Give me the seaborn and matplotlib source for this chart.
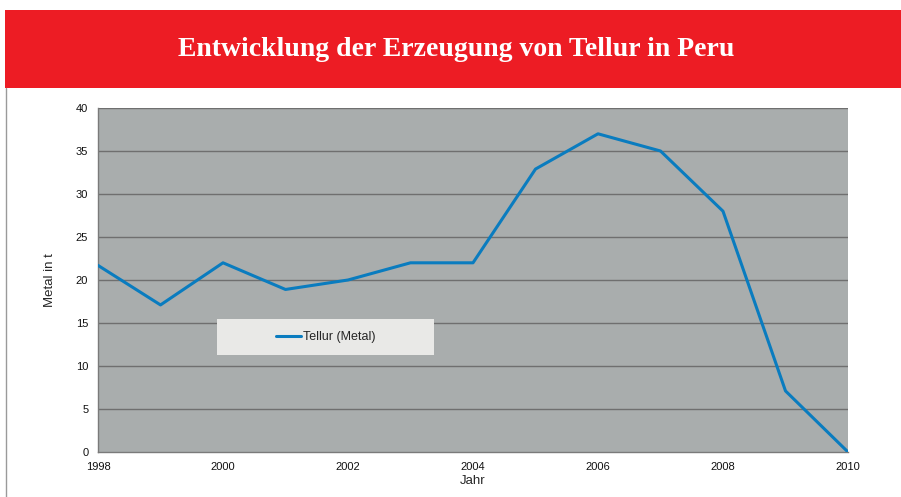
import matplotlib
matplotlib.use("Agg")
import matplotlib.pyplot as plt
import seaborn as sns
import pandas as pd
from matplotlib.patches import Rectangle
from matplotlib.lines import Line2D

years = [1998, 1999, 2000, 2001, 2002, 2003, 2004, 2005, 2006, 2007, 2008, 2009, 2010]
tellur = [21.7, 17.1, 22.0, 18.9, 20.0, 22.0, 22.0, 32.9, 37.0, 35.0, 28.0, 7.1, 0.0]
x_ticks = [1998, 2000, 2002, 2004, 2006, 2008, 2010]
y_ticks = [0, 5, 10, 15, 20, 25, 30, 35, 40]

df = pd.DataFrame({"Jahr": years, "Tellur (Metal)": tellur})

sns.set_style("white")
plt.rcParams["font.family"] = ["Liberation Sans", "DejaVu Sans"]

W, H = 901, 497
fig = plt.figure(figsize=(W / 100, H / 100), dpi=100)

# red title banner
fig.patches.append(Rectangle((5 / W, 1 - 88 / H), 1 - 5 / W, 78 / H,
                             transform=fig.transFigure, facecolor="#ed1c24",
                             edgecolor="none", zorder=0))
fig.text(456 / W, 1 - 50 / H, "Entwicklung der Erzeugung von Tellur in Peru",
         ha="center", va="center", color="white", fontsize=20, fontweight="bold",
         family=["Liberation Serif", "DejaVu Serif"])
fig.lines.append(Line2D([5.5 / W, 5.5 / W], [0, 1 - 88 / H], transform=fig.transFigure,
                        color="#9a9a9a", lw=1))

ax = fig.add_axes([98 / W, 1 - 452 / H, (848 - 98) / W, (452 - 108) / H])
ax.set_facecolor("#a9adad")
sns.lineplot(data=df, x="Jahr", y="Tellur (Metal)", ax=ax, color="#0a7cbf",
             lw=2.2, label="Tellur (Metal)", zorder=3)
ax.set_xlim(1998, 2010)
ax.set_ylim(0, 40)
ax.set_xticks(x_ticks)
ax.set_yticks(y_ticks)
ax.tick_params(axis="both", labelsize=8, color="#888888", length=4, width=0.8,
               direction="out", pad=3, labelcolor="#111111")
for y in y_ticks[1:]:
    ax.axhline(y, color="#6f6f6f", lw=1, zorder=1)
for s in ["top", "right"]:
    ax.spines[s].set_visible(False)
for s in ["left", "bottom"]:
    ax.spines[s].set_color("#7a7a7a")
    ax.spines[s].set_linewidth(1)
ax.set_xlabel("Jahr", fontsize=9.5, labelpad=2)
ax.set_ylabel("Metal in t", fontsize=9.5, labelpad=14)

# legend box
bx0, bx1 = (217 - 98) / 750, (434 - 98) / 750
by0, by1 = (452 - 355) / 344, (452 - 319) / 344
ax.add_patch(Rectangle((bx0, by0), bx1 - bx0, by1 - by0, transform=ax.transAxes,
                       facecolor="#e9e9e7", edgecolor="none", zorder=4))
leg = ax.legend(loc="center", bbox_to_anchor=((326 - 98) / 750, (by0 + by1) / 2),
                frameon=False, fontsize=9, handlelength=2.0,
                handletextpad=0.15, borderpad=0, borderaxespad=0)
leg.set_zorder(5)

fig.savefig("out.png", dpi=100)
